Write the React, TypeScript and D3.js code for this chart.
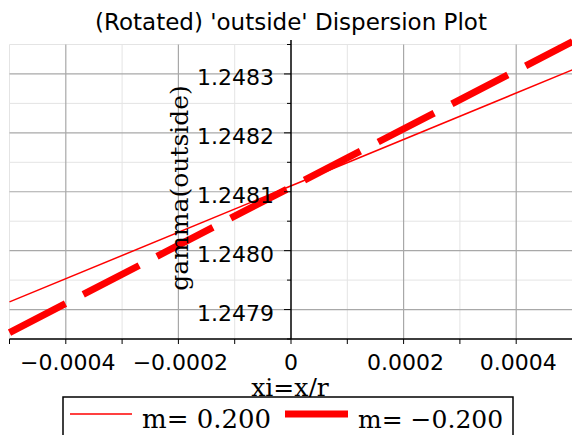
import React, { useEffect, useRef } from "react";
import * as d3 from "d3";

const xEnds = [-0.0005, 0.0005];
const seriesThin = [1.247913, 1.248307]; // m= 0.200
const seriesThick = [1.247861, 1.248355]; // m= -0.200
const seriesLabels = ["m= 0.200", "m= \u22120.200"];
const xTickValues = [-0.0004, -0.0002, 0, 0.0002, 0.0004];
const xTickLabels = ["\u22120.0004", "\u22120.0002", "0", "0.0002", "0.0004"];
const xMinorValues = [-0.0005, -0.0003, -0.0001, 0.0001, 0.0003, 0.0005];
const yTickValues = [1.2479, 1.248, 1.2481, 1.2482, 1.2483];
const yTickLabels = ["1.2479", "1.2480", "1.2481", "1.2482", "1.2483"];
const yMinorValues = [1.24785, 1.24795, 1.24805, 1.24815, 1.24825, 1.24835];

const W = 572;
const H = 435;

export default function App() {
  const ref = useRef<SVGSVGElement>(null);
  useEffect(() => {
    const svg = d3.select(ref.current);
    svg.selectAll("*").remove();
    const x = d3.scaleLinear().domain([-0.0005, 0.0005]).range([9.5, 572.5]);
    const y = d3.scaleLinear().domain([1.24785, 1.24835]).range([339, 44.5]);
    const sans = "'DejaVu Sans', sans-serif";
    const serif = "'DejaVu Serif', serif";

    const g = svg.append("g");
    // minor grid
    g.selectAll(".vminor").data(xMinorValues).enter().append("line")
      .attr("x1", (d) => x(d)).attr("x2", (d) => x(d))
      .attr("y1", y(1.24835)).attr("y2", y(1.24785))
      .attr("stroke", "#e4e4e4").attr("stroke-width", 1);
    g.selectAll(".hminor").data(yMinorValues).enter().append("line")
      .attr("x1", x(-0.0005)).attr("x2", x(0.0005))
      .attr("y1", (d) => y(d)).attr("y2", (d) => y(d))
      .attr("stroke", "#e4e4e4").attr("stroke-width", 1);
    // major grid
    g.selectAll(".vmajor").data(xTickValues.filter((v) => v !== 0)).enter().append("line")
      .attr("x1", (d) => x(d)).attr("x2", (d) => x(d))
      .attr("y1", y(1.24835)).attr("y2", y(1.24785))
      .attr("stroke", "#a8a8a8").attr("stroke-width", 1.2);
    g.selectAll(".hmajor").data(yTickValues).enter().append("line")
      .attr("x1", x(-0.0005)).attr("x2", x(0.0005))
      .attr("y1", (d) => y(d)).attr("y2", (d) => y(d))
      .attr("stroke", "#a8a8a8").attr("stroke-width", 1.2);

    const line = d3.line<number>().x((_, i) => x(xEnds[i])).y((d) => y(d));
    g.append("path").attr("d", line(seriesThin) as string)
      .attr("fill", "none").attr("stroke", "#ff0000").attr("stroke-width", 1.5);
    g.append("path").attr("d", line(seriesThick) as string)
      .attr("fill", "none").attr("stroke", "#ff0000").attr("stroke-width", 7)
      .attr("stroke-dasharray", "63 20");

    // axes
    const x0 = x(0);
    const yb = y(1.24785);
    g.append("line").attr("x1", x0).attr("x2", x0).attr("y1", 40).attr("y2", yb)
      .attr("stroke", "#000").attr("stroke-width", 1.5);
    g.append("line").attr("x1", x(-0.0005)).attr("x2", x(0.0005)).attr("y1", yb).attr("y2", yb)
      .attr("stroke", "#000").attr("stroke-width", 1.5);
    // x ticks
    g.selectAll(".xt").data([...xTickValues, ...xMinorValues]).enter().append("line")
      .attr("x1", (d) => x(d)).attr("x2", (d) => x(d))
      .attr("y1", yb).attr("y2", yb + 5)
      .attr("stroke", "#000").attr("stroke-width", 1);
    // y ticks
    g.selectAll(".yt").data(yTickValues).enter().append("line")
      .attr("x1", x0 - 7).attr("x2", x0).attr("y1", (d) => y(d)).attr("y2", (d) => y(d))
      .attr("stroke", "#000").attr("stroke-width", 1);
    g.selectAll(".ytm").data(yMinorValues).enter().append("line")
      .attr("x1", x0 - 4).attr("x2", x0).attr("y1", (d) => y(d)).attr("y2", (d) => y(d))
      .attr("stroke", "#000").attr("stroke-width", 1);

    // tick labels
    g.selectAll(".xl").data(xTickValues).enter().append("text")
      .attr("x", (d) => x(d) + (d === 0 ? 0 : 2)).attr("y", 370)
      .attr("text-anchor", "middle").attr("font-family", sans).attr("font-size", 22)
      .text((_, i) => xTickLabels[i]);
    g.selectAll(".yl").data(yTickValues).enter().append("text")
      .attr("x", 274).attr("y", (d) => y(d) + 11)
      .attr("text-anchor", "end").attr("font-family", sans).attr("font-size", 22)
      .text((_, i) => yTickLabels[i]);

    // title
    g.append("text").attr("x", 291).attr("y", 30).attr("text-anchor", "middle")
      .attr("font-family", sans).attr("font-size", 23)
      .text("(Rotated) 'outside' Dispersion Plot");
    // axis labels
    g.append("text").attr("x", 290).attr("y", 396).attr("text-anchor", "middle")
      .attr("font-family", serif).attr("font-size", 25).text("xi=x/r");
    g.append("text").attr("transform", "translate(188,188) rotate(-90)")
      .attr("text-anchor", "middle").attr("font-family", serif).attr("font-size", 25)
      .text("gamma(outside)");

    // legend
    g.append("rect").attr("x", 63).attr("y", 397).attr("width", 450).attr("height", 50)
      .attr("fill", "#fff").attr("stroke", "#000").attr("stroke-width", 1.5);
    g.append("line").attr("x1", 70).attr("x2", 132).attr("y1", 414).attr("y2", 414)
      .attr("stroke", "#ff0000").attr("stroke-width", 1.5);
    g.append("text").attr("x", 142).attr("y", 428).attr("font-family", serif)
      .attr("font-size", 26).text(seriesLabels[0]);
    g.append("line").attr("x1", 285).attr("x2", 348).attr("y1", 414).attr("y2", 414)
      .attr("stroke", "#ff0000").attr("stroke-width", 7);
    g.append("text").attr("x", 358).attr("y", 428).attr("font-family", serif)
      .attr("font-size", 25).text(seriesLabels[1]);
  }, []);
  return (
    <svg ref={ref} width={W} height={H}
      style={{ position: "absolute", left: 0, top: 0, background: "#fff" }} />
  );
}
